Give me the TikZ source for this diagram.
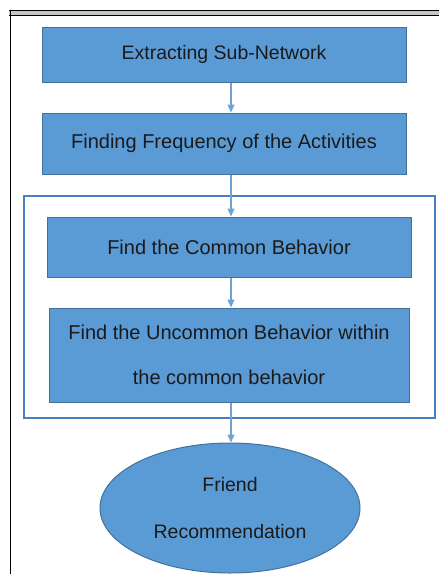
\documentclass[tikz,border=0pt]{standalone}
\usepackage{fontspec}
\setmainfont{Liberation Sans}
\usetikzlibrary{shapes.geometric,arrows.meta}
\definecolor{boxfill}{HTML}{5B9BD5}
\definecolor{boxedge}{HTML}{41719C}
\definecolor{framecol}{HTML}{4A7EC2}
\definecolor{arrowcol}{HTML}{6FA3D6}
\definecolor{txt}{HTML}{1A1A1A}
\tikzset{
  stepbox/.style={draw=boxedge, line width=1pt, fill=boxfill, rectangle,
    text=txt, align=center, inner sep=0pt},
  endbox/.style={draw=boxedge, line width=1pt, fill=boxfill, ellipse,
    text=txt, align=center, inner sep=0pt},
  flow/.style={draw=arrowcol, line width=1.3pt,
    -{Triangle[length=8pt,width=7pt]}},
  groupframe/.style={draw=framecol, line width=2.8pt},
}
\begin{document}
\begin{tikzpicture}[x=1pt,y=-1pt]
  \useasboundingbox (0,0) rectangle (439,574);
  % page edge
  \fill[gray!45] (9,10) rectangle (439,15);
  \draw[black, line width=1pt] (9,10) -- (439,10);
  \draw[black, line width=0.8pt] (9,15) -- (439,15);
  \draw[black, line width=1pt] (10,10) -- (10,574);

  % grouping frame
  \node[groupframe, minimum width=411pt, minimum height=222pt, inner sep=0pt] (grp) at (229.5,307) {};

  \node[stepbox, minimum width=364pt, minimum height=55pt, font=\fontsize{19.5}{22}\selectfont]
    (n1) at (224,54.5) {Extracting Sub-Network};
  \node[stepbox, minimum width=364pt, minimum height=61pt, font=\fontsize{20}{22}\selectfont]
    (n2) at (224,143.5) {Finding Frequency of the Activities};
  \node[stepbox, minimum width=364pt, minimum height=60pt, font=\fontsize{20}{22}\selectfont]
    (n3) at (229,247) {Find the Common Behavior};
  \node[stepbox, minimum width=360pt, minimum height=94pt, font=\fontsize{20}{45}\selectfont]
    (n4) at (229,355) {Find the Uncommon Behavior within\\the common behavior};
  \node[endbox, minimum width=260pt, minimum height=130pt, font=\fontsize{19.5}{47}\selectfont]
    (n5) at (230,508) {Friend\\Recommendation};

  \coordinate (ax) at (231,0);
  \draw[flow] (n1.south -| ax) -- (n2.north -| ax);
  \draw[flow] (n2.south -| ax) -- (n3.north -| ax);
  \draw[flow] (n3.south -| ax) -- (n4.north -| ax);
  \draw[flow] (n4.south -| ax) -- (n5.north -| ax);
\end{tikzpicture}
\end{document}
